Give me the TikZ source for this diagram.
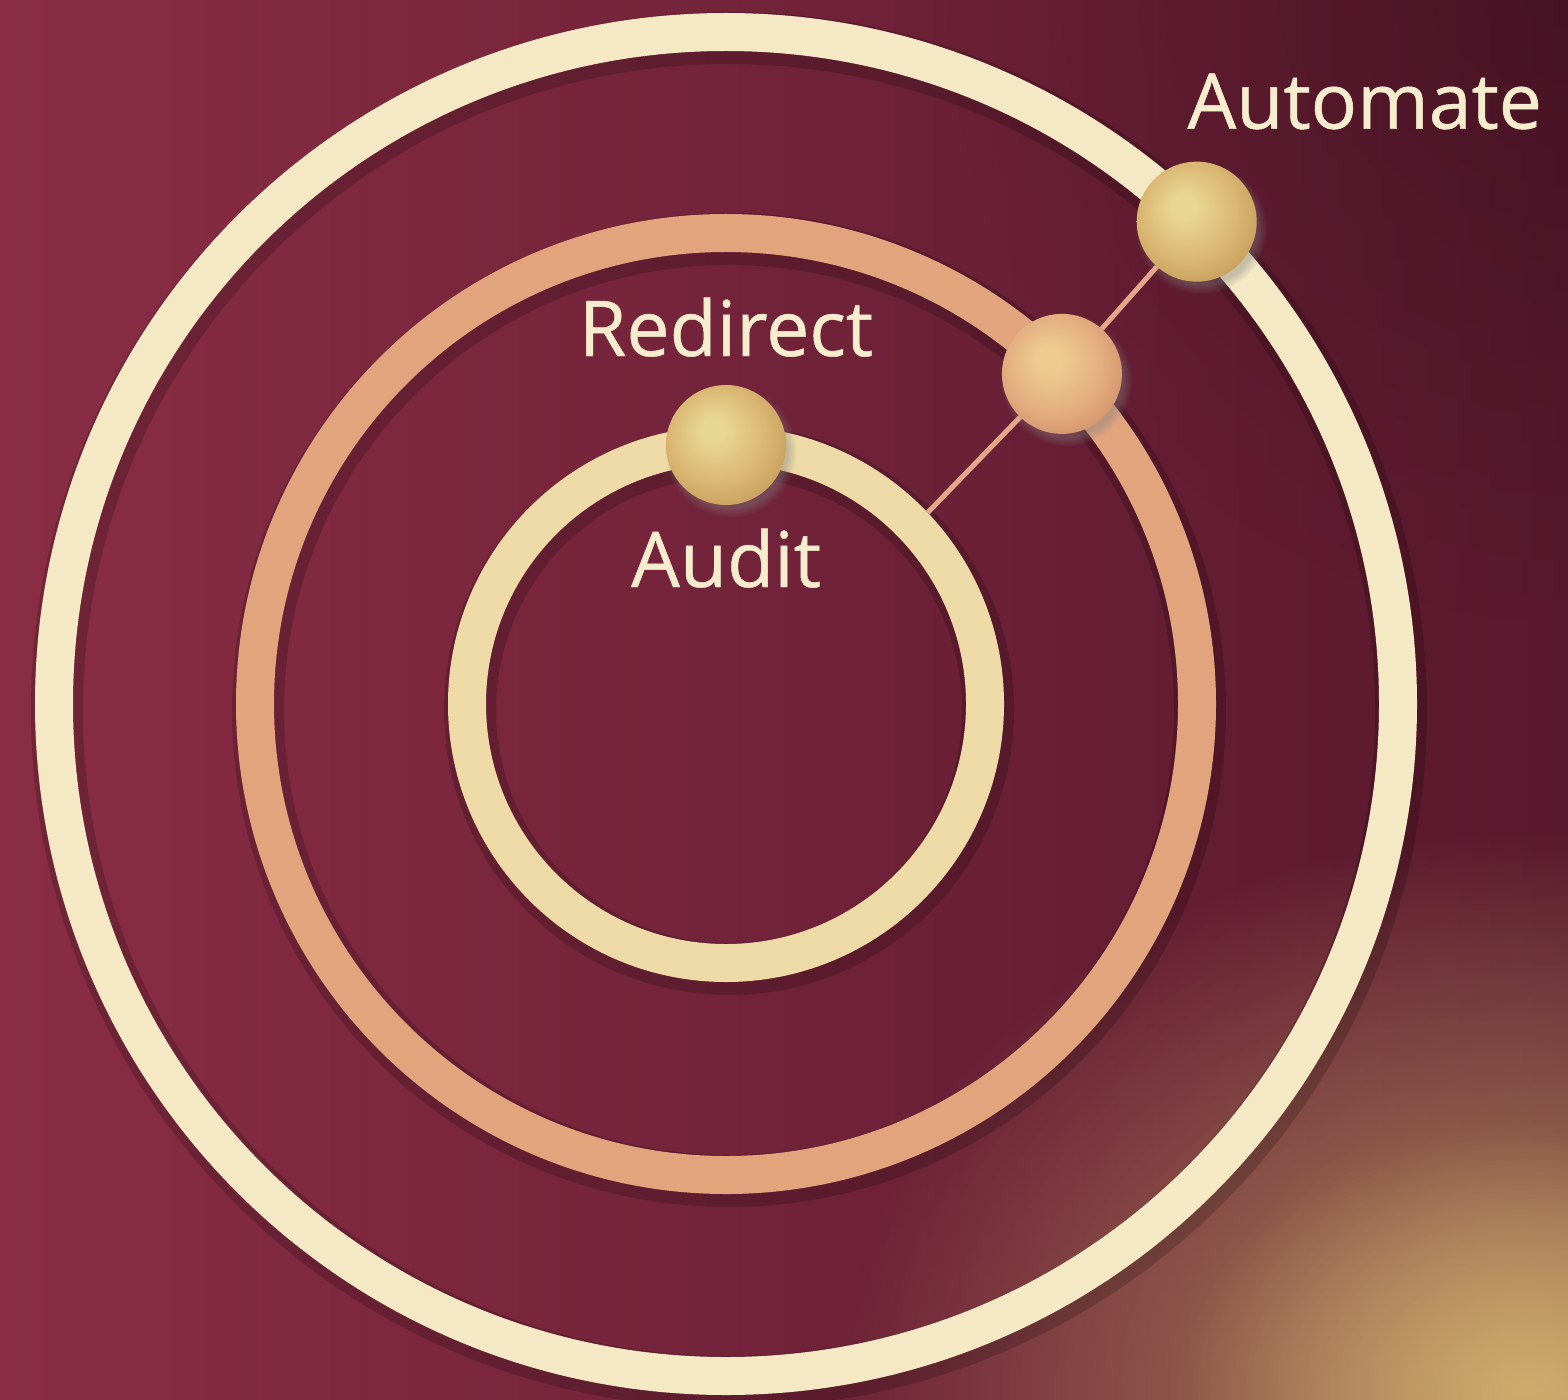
\documentclass[tikz,border=0pt]{standalone}
\usepackage{fontspec}
\setmainfont{Open Sans}
\newfontfamily\tagfont{Open Sans}[FakeBold=0.6]
\usepackage{xcolor}
\usetikzlibrary{positioning,shadows,fadings}

\definecolor{bgleft}{HTML}{8A2D45}
\definecolor{bgmid}{HTML}{6E1E37}
\definecolor{bgright}{HTML}{58182D}
\definecolor{glowgold}{HTML}{D8B872}
\definecolor{creamring}{HTML}{F4E9C4}
\definecolor{peachring}{HTML}{E2A47D}
\definecolor{goldring}{HTML}{EDDAA7}
\definecolor{linkpeach}{HTML}{E3A88A}
\definecolor{tagtext}{HTML}{F6EDCF}
\definecolor{goldhi}{HTML}{E8D693}
\definecolor{goldmid}{HTML}{DAB772}
\definecolor{goldrim}{HTML}{C39858}
\definecolor{peachhi}{HTML}{EDCB90}
\definecolor{peachmid}{HTML}{E4AE80}
\definecolor{peachrim}{HTML}{CF8D66}

% sphere shadings, lit from the upper left
\pgfdeclareradialshading{goldsphere}{\pgfpoint{-6bp}{7bp}}{color(0bp)=(goldhi); color(5bp)=(goldhi); color(20bp)=(goldmid); color(33bp)=(goldrim); color(50bp)=(goldrim)}
\pgfdeclareradialshading{peachsphere}{\pgfpoint{-6bp}{7bp}}{color(0bp)=(peachhi); color(5bp)=(peachhi); color(20bp)=(peachmid); color(33bp)=(peachrim); color(50bp)=(peachrim)}
\tikzfading[name=glowfade, inner color=transparent!0, outer color=transparent!100]

\begin{document}
\begin{tikzpicture}[
  ring/.style={line width=0.38cm},
  ringshade/.style={draw=black, line width=0.52cm, opacity=0.18},
  sphere/.style={circle, minimum size=1.2cm, inner sep=0pt, outer sep=0pt, shade, circular drop shadow={shadow xshift=0.04cm, shadow yshift=-0.06cm, opacity=0.4}},
  link/.style={draw=linkpeach, line width=0.05cm},
  tag/.style={font=\tagfont\fontsize{21.9pt}{26pt}\selectfont, text=tagtext, inner sep=0pt},
]
\useasboundingbox (0,0) rectangle (15.68,13.99);
\clip (0,0) rectangle (15.68,13.99);

% Background
\shade[left color=bgleft, middle color=bgmid, right color=bgright] (0,0) rectangle (15.68,13.99);
\fill[black, opacity=0.2, path fading=glowfade] (15.9,14.2) ellipse (6.5 and 6.5);
\fill[glowgold, opacity=0.75, path fading=glowfade] (15.4,0.1) ellipse (7.0 and 5.6);
\fill[glowgold, opacity=0.7, path fading=glowfade] (15.2,0.1) ellipse (3.4 and 2.6);

% Rings
\coordinate (centre) at (7.26,6.95);
\foreach \r in {2.59,4.71,6.72}
  \draw[ringshade] ([shift={(0.03,-0.06)}]centre) circle (\r);
\draw[ring, draw=goldring] (centre) circle (2.59);
\draw[ring, draw=peachring] (centre) circle (4.71);
\draw[ring, draw=creamring] (centre) circle (6.72);

% Spheres
\coordinate (linkstart) at ([shift={(43.5:2.78)}]centre);
\node[sphere, shading=goldsphere] (audit) at ([shift={(90:2.59)}]centre) {};
\node[sphere, shading=peachsphere] (redirect) at ([shift={(44.5:4.71)}]centre) {};
\node[sphere, shading=goldsphere] (automate) at ([shift={(45.7:6.74)}]centre) {};

% Link between the rings
\draw[link] (linkstart) -- (redirect);
\draw[link] (redirect) -- (automate);

% Labels
\node[tag, above=0.29cm of audit, anchor=base] (redirecttxt) {Redirect};
\node[tag, below=0.82cm of audit, anchor=base] (audittxt) {Audit};
\node[tag, above=0.33cm of automate, xshift=1.68cm, anchor=base] (automatetxt) {Automate};
\end{tikzpicture}
\end{document}
